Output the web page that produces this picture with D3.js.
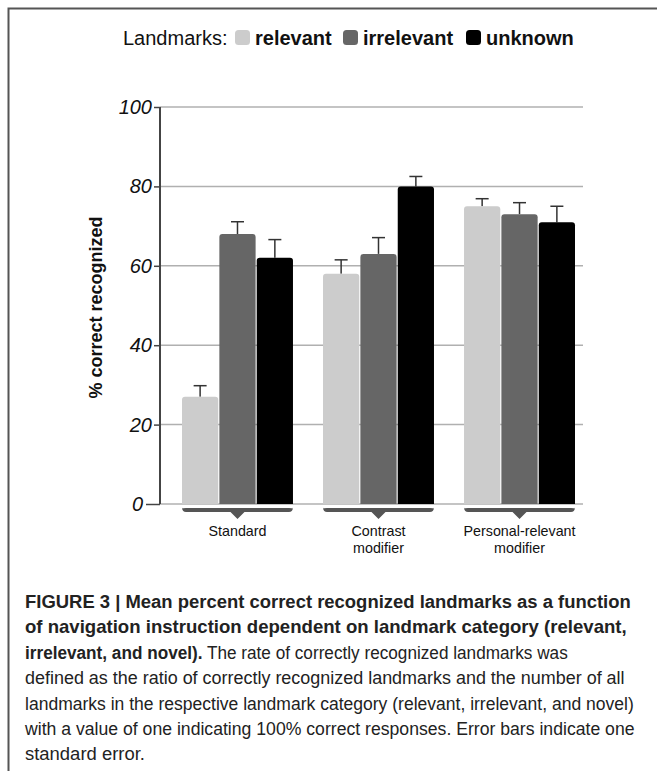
<!DOCTYPE html>
<html>
<head>
<meta charset="utf-8">
<script src="https://cdn.jsdelivr.net/npm/d3@7"></script>
<style>
  html, body { margin: 0; padding: 0; background: #fff; }
  svg { display: block; font-family: "Liberation Sans", Arial, Helvetica, sans-serif; }
</style>
</head>
<body>
<div id="chart"></div>
<script>
const groups = ['Standard', 'Contrast modifier', 'Personal-relevant modifier']
const groupLines = [['Standard'], ['Contrast', 'modifier'], ['Personal-relevant', 'modifier']]
const series = ['relevant', 'irrelevant', 'unknown']
const colors = ['#cccccc', '#666666', '#000000']
const means = [
  [27, 68, 62],
  [58, 63, 80],
  [75, 73, 71]
]
const errors = [
  [2.8, 3.1, 4.6],
  [3.5, 4.1, 2.5],
  [1.9, 2.9, 4.0]
]
const yTicks = [0, 20, 40, 60, 80, 100]
const caption = [
  [['FIGURE 3 | Mean percent correct recognized landmarks as a function', true]],
  [['of navigation instruction dependent on landmark category (relevant,', true]],
  [['irrelevant, and novel).', true], [' The rate of correctly recognized landmarks was', false]],
  [['defined as the ratio of correctly recognized landmarks and the number of all', false]],
  [['landmarks in the respective landmark category (relevant, irrelevant, and novel)', false]],
  [['with a value of one indicating 100% correct responses. Error bars indicate one', false]],
  [['standard error.', false]]
]
const captionWidths = [606, 602, 543, 600, 609, 610, 120]

const W = 657, H = 771
const svg = d3.select('#chart').append('svg').attr('width', W).attr('height', H)

// frame
svg.append('path').attr('d', `M8.5,${H} V8.5 H${W}`)
  .attr('fill', 'none').attr('stroke', '#555').attr('stroke-width', 2)

const axisX = 160, gridEnd = 583
const y = d3.scaleLinear().domain([0, 100]).range([504, 107])
const x0 = d3.scaleBand().domain(groups).range([182, 575]).paddingInner(0.213)
const x1 = d3.scaleBand().domain(series).range([0, x0.bandwidth()]).paddingInner(0.03)

// grid
svg.append('g').selectAll('line').data(yTicks).enter().append('line')
  .attr('x1', axisX).attr('x2', gridEnd)
  .attr('y1', d => y(d)).attr('y2', d => y(d))
  .attr('stroke', '#b0b0b0').attr('stroke-width', 1.5)

// y axis
const yAxis = svg.append('g').attr('transform', `translate(${axisX},0)`)
  .call(d3.axisLeft(y).tickValues(yTicks).tickSize(6).tickPadding(3).tickFormat(d3.format('d')))
yAxis.select('.domain').remove()
yAxis.append('line').attr('x1', 0).attr('x2', 0).attr('y1', y(0)).attr('y2', y(100))
  .attr('stroke', '#444').attr('stroke-width', 2)
yAxis.selectAll('.tick line').attr('stroke', '#444').attr('stroke-width', 1.5)
  .attr('x2', d => d === 0 ? -14 : -6)
yAxis.selectAll('.tick text')
  .attr('x', d => d === 0 ? -17 : -8)
  .attr('font-size', 20).attr('font-style', 'italic').attr('fill', '#111')
  .attr('font-family', '"Liberation Sans", Arial, sans-serif')

svg.append('text')
  .attr('transform', `translate(102,${(y(0) + y(100)) / 2 + 2}) rotate(-90)`)
  .attr('text-anchor', 'middle').attr('font-weight', 'bold').attr('font-size', 18).attr('fill', '#111')
  .text('% correct recognized')

// bars
const r = 3
function topRounded (bx, by, bw, bh) {
  return `M${bx},${by + bh} V${by + r} Q${bx},${by} ${bx + r},${by} H${bx + bw - r} Q${bx + bw},${by} ${bx + bw},${by + r} V${by + bh} Z`
}
const g = svg.selectAll('.grp').data(groups).enter().append('g')
  .attr('transform', d => `translate(${x0(d)},0)`)

g.each(function (gname, gi) {
  const sel = d3.select(this)
  series.forEach((s, si) => {
    const v = means[gi][si], e = errors[gi][si]
    const cx = x1(s) + x1.bandwidth() / 2
    sel.append('line').attr('x1', cx).attr('x2', cx).attr('y1', y(v)).attr('y2', y(v + e))
      .attr('stroke', '#333').attr('stroke-width', 1.5)
    sel.append('line').attr('x1', cx - 6.5).attr('x2', cx + 6.5).attr('y1', y(v + e)).attr('y2', y(v + e))
      .attr('stroke', '#333').attr('stroke-width', 1.5)
    sel.append('path').attr('d', topRounded(x1(s), y(v), x1.bandwidth(), y(0) - y(v)))
      .attr('fill', colors[si])
  })
  // bracket
  const bw = x0.bandwidth(), mid = bw / 2
  sel.append('path')
    .attr('d', `M0,${y(0) + 3} Q0,${y(0) + 8} 4,${y(0) + 8} H${mid - 7} L${mid},${y(0) + 15} L${mid + 7},${y(0) + 8} H${bw - 4} Q${bw},${y(0) + 8} ${bw},${y(0) + 3} V${y(0) + 5} Q${bw},${y(0) + 4} ${bw - 4},${y(0) + 4} H4 Q0,${y(0) + 4} 0,${y(0) + 5} Z`)
    .attr('fill', '#555')
  const t = sel.append('text').attr('text-anchor', 'middle').attr('font-size', 14.3).attr('fill', '#111')
  groupLines[gi].forEach((ln, li) => {
    t.append('tspan').attr('x', mid).attr('y', 536 + li * 17).text(ln)
  })
})

// legend
const legend = svg.append('g').attr('font-size', 20).attr('fill', '#111')
legend.append('text').attr('x', 123).attr('y', 45).text('Landmarks:')
const legX = [235, 343, 466]
series.forEach((s, i) => {
  legend.append('rect').attr('x', legX[i]).attr('y', 30).attr('width', 15).attr('height', 15)
    .attr('rx', 3.5).attr('fill', colors[i])
  legend.append('text').attr('x', legX[i] + 20).attr('y', 45).attr('font-weight', 'bold').text(s)
})

// caption: condensed face, squeezed to the reference line widths
caption.forEach((parts, i) => {
  const t = svg.append('text').attr('x', 0).attr('y', 0)
    .attr('font-size', 18.5).attr('fill', '#222')
  parts.forEach(p => {
    t.append('tspan').attr('font-weight', p[1] ? 'bold' : 'normal').text(p[0])
  })
  const sx = captionWidths[i] / t.node().getComputedTextLength()
  t.attr('transform', `translate(25,${608 + i * 25.4}) scale(${sx},1)`)
})
</script>
</body>
</html>
